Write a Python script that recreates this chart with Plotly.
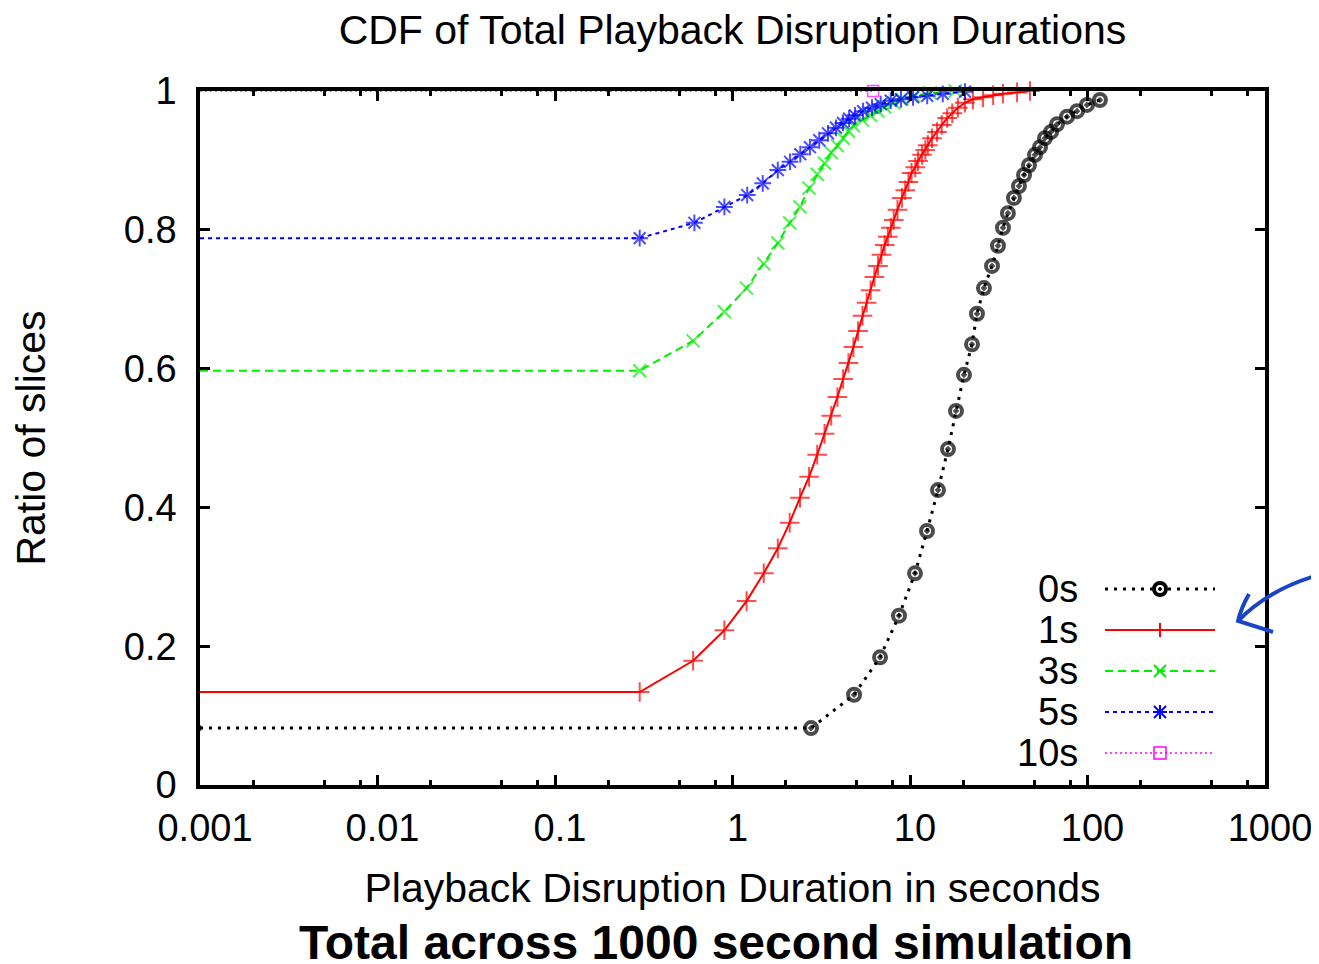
import plotly.graph_objects as go

# ---------------- data ----------------
x_min = 0.001  # left edge of the axis: zero-duration baseline

series_names = ["0s", "1s", "3s", "5s", "10s"]

dur_0s = [x_min, 2.77, 4.84, 6.78, 8.67, 10.67, 12.47, 14.38, 16.37, 18.16, 20.14,
          22.35, 23.84, 26.1, 28.97, 31.3, 33.4, 35.6, 38.5, 41.1, 43.9, 46.8,
          50.6, 54.0, 57.6, 62.3, 67.3, 76.7, 87.3, 99.3, 117.5]
cdf_0s = [0.082, 0.082, 0.130, 0.184, 0.244, 0.305, 0.366, 0.425, 0.484, 0.539, 0.591,
          0.635, 0.679, 0.716, 0.748, 0.777, 0.803, 0.824, 0.846, 0.863, 0.879, 0.893,
          0.908, 0.919, 0.932, 0.941, 0.952, 0.963, 0.971, 0.980, 0.987]

dur_1s = [x_min, 0.3, 0.6, 0.9, 1.2, 1.5, 1.8, 2.1, 2.4, 2.7, 3.0, 3.3, 3.6, 3.9, 4.2,
          4.5, 4.8, 5.1, 5.4, 5.7, 6.0, 6.3, 6.6, 6.9, 7.2, 7.5, 7.8, 8.1, 8.5, 9.0,
          9.4, 9.8, 10.2, 10.7, 11.1, 11.7, 12.2, 12.6, 13.3, 14.2, 15.1, 16.2, 17.3,
          18.6, 20.4, 22.6, 25.8, 29.4, 33.4, 40.1, 47.4]
cdf_1s = [0.134, 0.134, 0.179, 0.223, 0.265, 0.305, 0.341, 0.378, 0.414, 0.444, 0.476,
          0.506, 0.532, 0.559, 0.585, 0.608, 0.631, 0.654, 0.676, 0.695, 0.713, 0.732,
          0.748, 0.764, 0.778, 0.790, 0.803, 0.814, 0.829, 0.846, 0.857, 0.869, 0.882,
          0.890, 0.899, 0.908, 0.915, 0.922, 0.932, 0.941, 0.951, 0.961, 0.968, 0.976,
          0.983, 0.988, 0.991, 0.994, 0.996, 0.998, 1.0]

dur_3s = [x_min, 0.3, 0.6, 0.9, 1.2, 1.5, 1.8, 2.1, 2.4, 2.7, 3.0, 3.3, 3.6, 3.9, 4.2,
          4.5, 4.8, 5.4, 6.0, 6.6, 7.2, 8.1, 9.0, 10.5, 13.0, 18.0]
cdf_3s = [0.597, 0.597, 0.640, 0.682, 0.716, 0.751, 0.781, 0.810, 0.833, 0.860, 0.880,
          0.896, 0.911, 0.921, 0.932, 0.942, 0.950, 0.958, 0.965, 0.971, 0.977, 0.983,
          0.988, 0.993, 0.997, 1.0]

dur_5s = [x_min, 0.30, 0.61, 0.90, 1.21, 1.48, 1.80, 2.11, 2.41, 2.73, 3.08, 3.45, 3.83,
          4.19, 4.54, 4.90, 5.44, 6.11, 6.84, 7.79, 8.90, 10.4, 12.5, 15.3, 20.4]
cdf_5s = [0.788, 0.788, 0.810, 0.833, 0.850, 0.867, 0.886, 0.898, 0.909, 0.919, 0.929,
          0.939, 0.947, 0.954, 0.960, 0.965, 0.971, 0.976, 0.981, 0.986, 0.988, 0.991,
          0.993, 0.996, 0.999]

dur_10s = [x_min, 6.2]
cdf_10s = [1.0, 1.0]

x_tick_vals = [0.001, 0.01, 0.1, 1, 10, 100, 1000]
x_tick_text = ["0.001", "0.01", "0.1", "1", "10", "100", "1000"]
x_minor_vals = [m * d for d in [0.001, 0.01, 0.1, 1, 10, 100] for m in (2, 5, 8)]
y_tick_vals = [0, 0.2, 0.4, 0.6, 0.8, 1.0]
y_tick_text = ["0", "0.2", "0.4", "0.6", "0.8", "1"]

# ---------------- styles ----------------
FONT = "Liberation Sans"
OFF = 8                      # the page body adds an 8px margin
W, H = 1319 - OFF, 964 - OFF
# plot area in reference pixels
L, R, T, B = 200, 1265, 91, 785

styles = [
    dict(color="#000000", width=3, dash="3px,6px", symbol="circle-open-dot", size=12, mlw=4),
    dict(color="#ff0000", width=2, dash="solid", symbol="cross-thin-open", size=14, mlw=2),
    dict(color="#00ee00", width=2, dash="8px,5px", symbol="x-thin-open", size=13, mlw=2),
    dict(color="#0000ff", width=2, dash="4px,4px", symbol="asterisk-open", size=14, mlw=2),
    dict(color="#ff00ff", width=1.5, dash="2px,3px", symbol="square-open", size=11, mlw=1.5),
]
data = [(dur_0s, cdf_0s), (dur_1s, cdf_1s), (dur_3s, cdf_3s), (dur_5s, cdf_5s), (dur_10s, cdf_10s)]

fig = go.Figure()
for name, (xs, ys), st in zip(series_names, data, styles):
    sizes = [0] + [st["size"]] * (len(xs) - 1)  # no marker on the baseline start point
    fig.add_trace(go.Scatter(
        x=xs, y=ys, name=name, mode="lines+markers", showlegend=False, cliponaxis=False,
        line=dict(color=st["color"], width=st["width"], dash=st["dash"]),
        marker=dict(symbol=st["symbol"], size=sizes, color=st["color"],
                    line=dict(color=st["color"], width=st["mlw"])),
    ))

def px(xp):
    return (xp - L) / (R - L)

def py(yp):
    return (B - yp) / (B - T)

shapes = []
annotations = []

# ---------------- manual legend (text left, key right) ----------------
row_y = [589, 630, 671, 712, 753]
key_x0, key_x1, key_mid, text_right = 1105, 1215, 1160, 1080
for name, st, yy in zip(series_names, styles, row_y):
    annotations.append(dict(x=px(text_right), y=py(yy), xref="paper", yref="paper",
                            text=name, showarrow=False, xanchor="right", yanchor="middle",
                            font=dict(family=FONT, size=38, color="black")))
    shapes.append(dict(type="line", xref="paper", yref="paper",
                       x0=px(key_x0), x1=px(key_x1), y0=py(yy), y1=py(yy),
                       line=dict(color=st["color"], width=st["width"], dash=st["dash"])))
    c = st["color"]
    def seg(x0, y0, x1, y1, w=2):
        shapes.append(dict(type="line", xref="paper", yref="paper",
                           x0=px(key_mid + x0), x1=px(key_mid + x1),
                           y0=py(yy + y0), y1=py(yy + y1), line=dict(color=c, width=w)))
    if name == "0s":
        shapes.append(dict(type="circle", xref="paper", yref="paper",
                           x0=px(key_mid - 6), x1=px(key_mid + 6), y0=py(yy - 6), y1=py(yy + 6),
                           line=dict(color=c, width=4), fillcolor="white"))
        shapes.append(dict(type="circle", xref="paper", yref="paper",
                           x0=px(key_mid - 1.5), x1=px(key_mid + 1.5), y0=py(yy - 1.5), y1=py(yy + 1.5),
                           line=dict(color=c, width=1), fillcolor=c))
    elif name == "1s":
        seg(-7, 0, 7, 0); seg(0, -7, 0, 7)
    elif name == "3s":
        seg(-6, -6, 6, 6); seg(-6, 6, 6, -6)
    elif name == "5s":
        seg(0, -7, 0, 7); seg(-6, -6, 6, 6); seg(-6, 6, 6, -6); seg(-7, 0, 7, 0)
    else:
        shapes.append(dict(type="rect", xref="paper", yref="paper",
                           x0=px(key_mid - 6), x1=px(key_mid + 6), y0=py(yy - 6), y1=py(yy + 6),
                           line=dict(color=c, width=1.5)))

# ---------------- hand-drawn blue arrow ----------------
arrow_col = "#1a44c8"
shapes.append(dict(type="path", xref="paper", yref="paper",
                   path=f"M {px(1322)},{py(574)} Q {px(1270)},{py(588)} {px(1238)},{py(621)}",
                   line=dict(color=arrow_col, width=4)))
shapes.append(dict(type="path", xref="paper", yref="paper",
                   path=f"M {px(1249)},{py(594)} Q {px(1241)},{py(608)} {px(1238)},{py(621)} L {px(1273)},{py(632)}",
                   line=dict(color=arrow_col, width=4)))

# ---------------- bold caption ----------------
annotations.append(dict(x=px(716), y=py(942), xref="paper", yref="paper",
                        text="<b>Total across 1000 second simulation</b>", showarrow=False,
                        xanchor="center", yanchor="middle",
                        font=dict(family=FONT, size=48, color="black")))

axis_common = dict(showline=True, linewidth=3.5, linecolor="black", mirror="ticks",
                   ticks="inside", ticklen=10, tickwidth=2.5, tickcolor="black",
                   showgrid=False, zeroline=False, automargin=False,
                   tickfont=dict(family=FONT, size=38, color="black"))

fig.update_layout(
    width=W, height=H, autosize=False,
    margin=dict(l=L - OFF, r=W - (R - OFF), t=T - OFF, b=H - (B - OFF), pad=0),
    paper_bgcolor="white", plot_bgcolor="white",
    title=dict(text="CDF of Total Playback Disruption Durations", x=0.5, xref="paper",
               y=1 - (30 - OFF) / H, yref="container", xanchor="center", yanchor="middle",
               font=dict(family=FONT, size=41, color="black")),
    xaxis=dict(type="log", range=[-3, 3], tickmode="array", tickvals=x_tick_vals,
               ticktext=x_tick_text, ticklabelstandoff=7, ticklabelshift=5,
               minor=dict(tickmode="array", tickvals=x_minor_vals, ticks="inside",
                          ticklen=5, tickwidth=2.5, tickcolor="black", showgrid=False),
               title=dict(text="Playback Disruption Duration in seconds", standoff=26,
                          font=dict(family=FONT, size=41, color="black")),
               **axis_common),
    yaxis=dict(range=[0, 1], tickmode="array", tickvals=y_tick_vals, ticktext=y_tick_text,
               ticklabelstandoff=12,
               title=dict(text="Ratio of slices", standoff=66,
                          font=dict(family=FONT, size=41, color="black")),
               **axis_common),
    shapes=shapes, annotations=annotations,
)

fig.write_html("out.html")
